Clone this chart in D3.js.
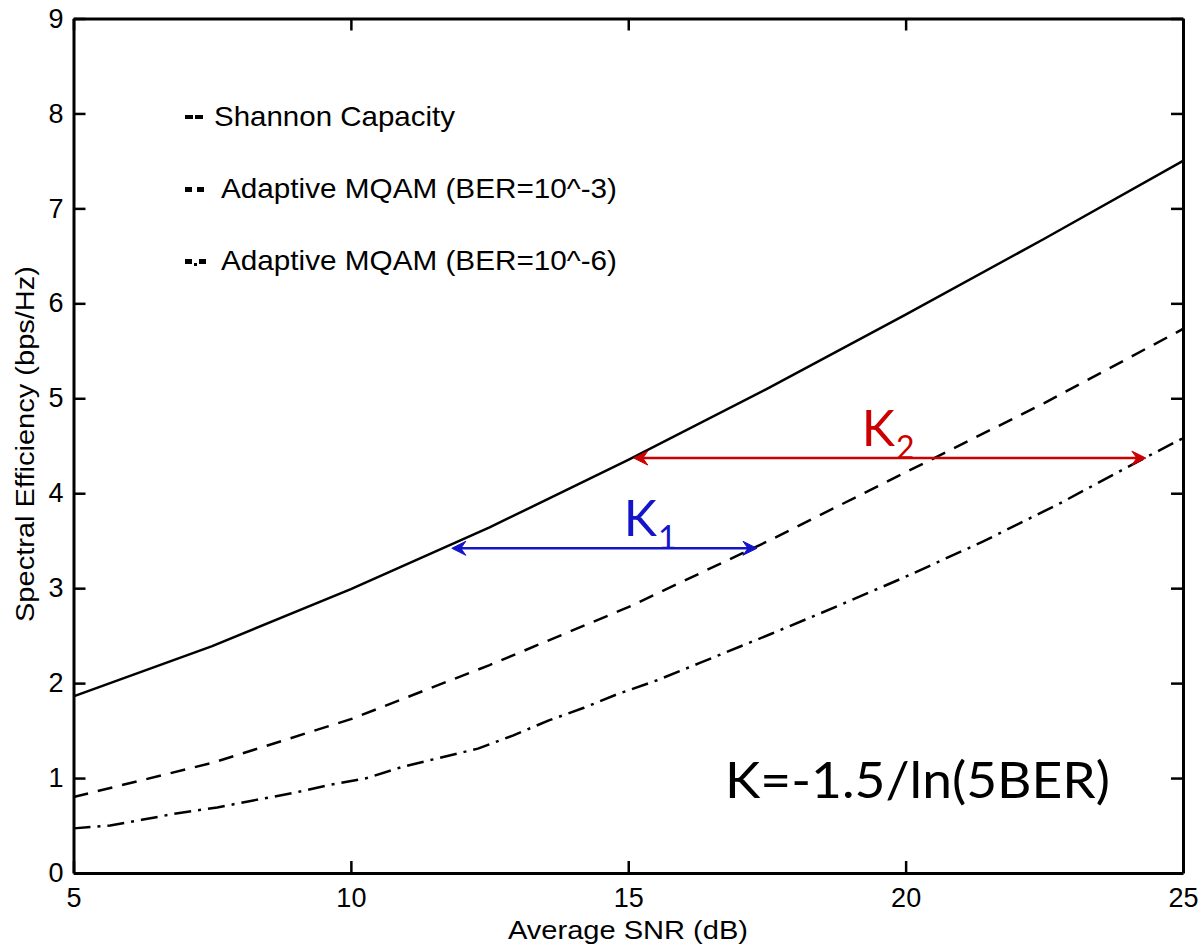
<!DOCTYPE html>
<html>
<head>
<meta charset="utf-8">
<script src="https://cdn.jsdelivr.net/npm/d3@7"></script>
<style>
  body { margin: 0; background: #fff; }
  text { font-family: "Liberation Sans", Arial, sans-serif; fill: #000; }
  .big { font-family: Lato, "Open Sans", sans-serif; }
</style>
</head>
<body>
<svg width="1201" height="947"></svg>
<script>
// values: SNR (dB) -> spectral efficiency (bps/Hz)
var shannonSnr = [5, 7.5, 10, 12.5, 15, 17.5, 20, 22.5, 25];
var shannonSe  = [1.86, 2.39, 2.99, 3.64, 4.35, 5.10, 5.88, 6.68, 7.50];

var mqam3Snr = [5, 7.5, 10, 12.5, 15, 17.5, 20, 22.5, 25];
var mqam3Se  = [0.80, 1.16, 1.62, 2.19, 2.80, 3.49, 4.22, 4.95, 5.73];

var mqam6Snr = [5, 5.66, 6.23, 6.88, 7.59, 8.29, 8.94, 9.64, 10.29, 10.94, 11.58, 12.29,
                12.93, 13.58, 14.2, 14.79, 15.52, 16.28, 17.58, 18.77, 20.0, 21.39, 22.77, 24.37, 25];
var mqam6Se  = [0.47, 0.50, 0.56, 0.63, 0.69, 0.77, 0.84, 0.93, 1.00, 1.12, 1.21, 1.31,
                1.45, 1.61, 1.74, 1.88, 2.03, 2.21, 2.52, 2.81, 3.12, 3.49, 3.89, 4.39, 4.58];

var xTicks = [5, 10, 15, 20, 25];
var yTicks = [0, 1, 2, 3, 4, 5, 6, 7, 8, 9];

var legendLabels = ["Shannon Capacity", "Adaptive MQAM (BER=10^-3)", "Adaptive MQAM (BER=10^-6)"];

// the two gap arrows K1, K2 (from / to SNR, at which efficiency level)
var kSubs   = ["1", "2"];
var kFrom   = [11.82, 15.10];
var kTo     = [17.32, 24.33];
var kLevel  = [3.42, 4.37];
var kLabelX = [14.92, 19.21];

var formula = "K=-1.5/ln(5BER)";

// ---- drawing
var svg = d3.select("svg");
var x = d3.scaleLinear().domain([5, 25]).range([73.5, 1183]);
var y = d3.scaleLinear().domain([0, 9]).range([873, 18.5]);

var kColors = ["#1414c8", "#cc0000"];
var dashes = ["none", "15,10", "17,7,3,7"];

var line = d3.line().x(function(d){ return x(d[0]) }).y(function(d){ return y(d[1]) });
var series = [d3.zip(shannonSnr, shannonSe), d3.zip(mqam3Snr, mqam3Se), d3.zip(mqam6Snr, mqam6Se)];

svg.append("g")
  .selectAll("path")
  .data(series)
  .enter()
  .append("path")
    .attr("d", line)
    .attr("fill", "none")
    .attr("stroke", "#000")
    .attr("stroke-width", 2.5)
    .attr("stroke-dasharray", function(d, i){ return dashes[i] });

// axes, ticks pointing inward on all sides
function styleAxis(g) {
  g.select(".domain").attr("stroke-width", 3);
  g.selectAll(".tick line").attr("stroke-width", 2.5);
  g.selectAll("text").attr("font-size", 27).attr("font-family", null);
}
svg.append("g").attr("transform", "translate(0,873)")
  .call(d3.axisBottom(x).tickValues(xTicks).tickSize(-12).tickSizeOuter(0).tickPadding(15))
  .call(styleAxis);
svg.append("g").attr("transform", "translate(73.5,0)")
  .call(d3.axisLeft(y).tickValues(yTicks).tickSize(-12).tickSizeOuter(0).tickPadding(10))
  .call(styleAxis);
svg.append("g").attr("transform", "translate(0,18.5)")
  .call(d3.axisTop(x).tickValues(xTicks).tickSize(-12).tickSizeOuter(0).tickFormat(""))
  .call(styleAxis);
svg.append("g").attr("transform", "translate(1183,0)")
  .call(d3.axisRight(y).tickValues(yTicks).tickSize(-12).tickSizeOuter(0).tickFormat(""))
  .call(styleAxis);

// axis titles
svg.append("text")
  .attr("x", 628).attr("y", 939)
  .attr("text-anchor", "middle")
  .attr("font-size", 26)
  .attr("textLength", 240).attr("lengthAdjust", "spacingAndGlyphs")
  .text("Average SNR (dB)");
svg.append("text")
  .attr("transform", "translate(33.5,444) rotate(-90)")
  .attr("text-anchor", "middle")
  .attr("font-size", 26)
  .attr("textLength", 356).attr("lengthAdjust", "spacingAndGlyphs")
  .text("Spectral Efficiency (bps/Hz)");

// legend
var legend = svg.append("g");
var legendTextX = [214, 221, 221];
var legendWidth = [241, 396, 396];
legendLabels.forEach(function(lab, i){
  var cy = 117 + i * 72;
  legend.append("text")
    .attr("x", legendTextX[i]).attr("y", cy + 9)
    .attr("font-size", 28)
    .attr("textLength", legendWidth[i]).attr("lengthAdjust", "spacingAndGlyphs")
    .text(lab);
});
// little markers in front of the legend entries
var mk = [
  [[185, 115, 8, 4], [195, 115, 8, 4]],
  [[185, 187, 7, 5], [197, 187, 7, 5]],
  [[185, 259, 7, 5], [194, 263, 3, 3], [199, 259, 7, 5]]
];
mk.forEach(function(rs){
  rs.forEach(function(r){
    legend.append("rect").attr("x", r[0]).attr("y", r[1]).attr("width", r[2]).attr("height", r[3]).attr("fill", "#000");
  });
});

// K arrows
function head(px, py, dir) {
  // dir = +1 head points right, -1 points left
  return "M" + px + "," + py +
         "L" + (px - dir * 14) + "," + (py - 7) +
         "L" + (px - dir * 9) + "," + py +
         "L" + (px - dir * 14) + "," + (py + 7) + "Z";
}
kSubs.forEach(function(s, i){
  var g = svg.append("g").attr("fill", kColors[i]).attr("stroke", kColors[i]);
  var ly = y(kLevel[i]);
  g.append("line")
    .attr("x1", x(kFrom[i]) + 4).attr("x2", x(kTo[i]) - 4)
    .attr("y1", ly).attr("y2", ly)
    .attr("stroke-width", 2.5);
  g.append("path").attr("d", head(x(kFrom[i]), ly, -1)).attr("stroke-width", 1);
  g.append("path").attr("d", head(x(kTo[i]), ly, 1)).attr("stroke-width", 1);
  var t = g.append("text").attr("class", "big")
    .attr("x", x(kLabelX[i])).attr("y", ly - 12)
    .attr("stroke", "none").style("fill", kColors[i])
    .attr("font-size", 50);
  t.append("tspan").text("K");
  t.append("tspan").attr("font-size", 32).attr("dy", 13).attr("dx", 1).text(s);
});

svg.append("text").attr("class", "big")
  .attr("x", 725).attr("y", 798)
  .attr("font-size", 50)
  .attr("textLength", 385).attr("lengthAdjust", "spacingAndGlyphs")
  .text(formula);
</script>
</body>
</html>
